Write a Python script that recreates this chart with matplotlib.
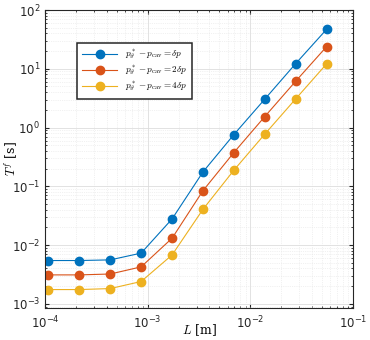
import matplotlib
matplotlib.use('Agg')
import matplotlib.pyplot as plt
import numpy as np

# data
L = [1.08e-4, 2.16e-4, 4.32e-4, 8.64e-4, 1.73e-3, 3.46e-3, 6.91e-3, 1.38e-2, 2.76e-2, 5.53e-2]
T_1dp = [5.46e-3, 5.46e-3, 5.6e-3, 7.3e-3, 0.0279, 0.176, 0.758, 3.03, 12.2, 46.9]
T_2dp = [3.11e-3, 3.11e-3, 3.22e-3, 4.26e-3, 0.0131, 0.0845, 0.375, 1.53, 6.12, 23.8]
T_4dp = [1.75e-3, 1.75e-3, 1.82e-3, 2.40e-3, 6.8e-3, 0.0407, 0.1876, 0.769, 3.06, 12.1]
labels = [r'$p^*_\vartheta - p_{\rm cav} = \delta p$',
          r'$p^*_\vartheta - p_{\rm cav} = 2\delta p$',
          r'$p^*_\vartheta - p_{\rm cav} = 4\delta p$']
colors = ['#0072BD', '#D95319', '#EDB120']

plt.rcParams['mathtext.fontset'] = 'cm'

fig = plt.figure(figsize=(3.7, 3.4), dpi=100)
ax = fig.add_axes([45/370, 1-308/340, 308/370, 298/340])

for T, lab, c in zip([T_1dp, T_2dp, T_4dp], labels, colors):
    ax.plot(L, T, '-o', color=c, lw=0.8, ms=6, label=lab)

ax.set_xscale('log')
ax.set_yscale('log')
ax.set_xlim(1e-4, 1e-1)
ax.set_ylim(8.5e-4, 100)

ax.grid(True, which='major', color='#dddddd', lw=0.6, ls='-')
ax.grid(True, which='minor', color='#e4e4e4', lw=0.5, ls=':')
ax.set_axisbelow(True)
ax.tick_params(which='both', direction='in', top=True, right=True, labelsize=8.5, colors='#262626')
ax.tick_params(which='major', length=3)
ax.tick_params(which='minor', length=1.5)
ax.tick_params(axis='x', pad=5)
for s in ax.spines.values():
    s.set_color('#262626')
    s.set_linewidth(0.8)

ax.set_xlabel(r'$L$ [m]', fontsize=9, family='serif')
ax.set_ylabel(r'$T^f$ [s]', fontsize=9, family='serif')
ax.xaxis.set_label_coords(0.5, -0.075)
ax.yaxis.set_label_coords(-0.112, 0.5)
ax.xaxis.label.set_va('center')
ax.yaxis.label.set_va('center')

leg = ax.legend(loc='upper left', bbox_to_anchor=(0.09, 0.905), fontsize=6.6,
                fancybox=False, edgecolor='#262626', framealpha=1,
                handlelength=3.8, borderpad=0.55, labelspacing=0.3)
leg.get_frame().set_linewidth(1.1)

fig.savefig('out.png', dpi=100)
